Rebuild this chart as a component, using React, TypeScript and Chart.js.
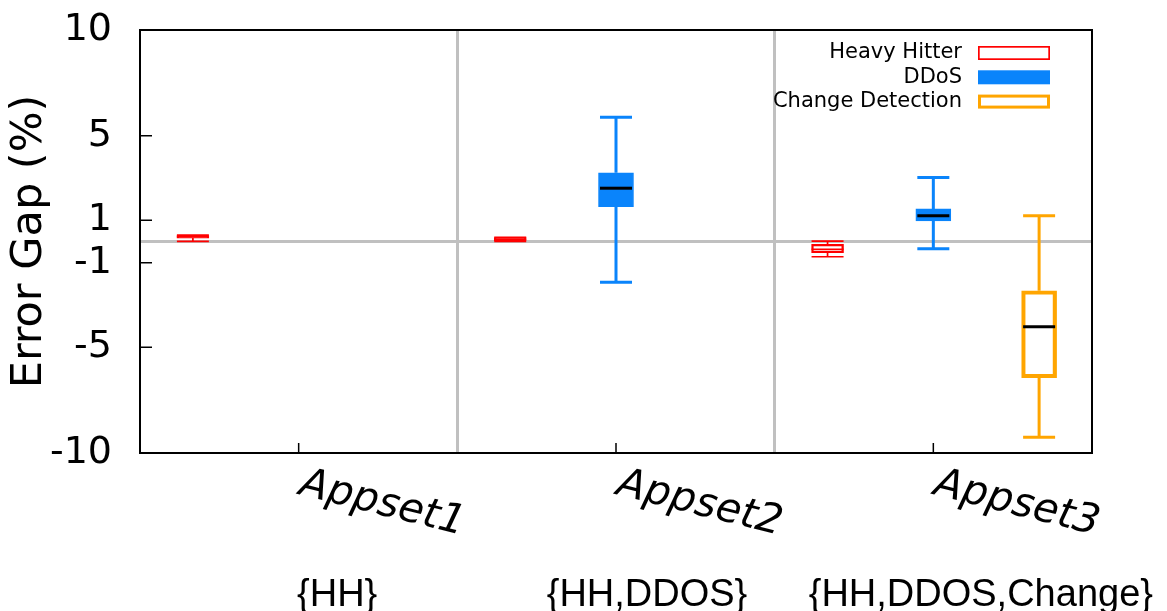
import React, { useEffect, useRef } from 'react';
import { Chart, registerables } from 'chart.js';

Chart.register(...registerables);

// ---- data ----
const categories = ['Appset1', 'Appset2', 'Appset3'];
const appsetMembers = ['{HH}', '{HH,DDOS}', '{HH,DDOS,Change}'];
const yTickValues = [-10, -5, -1, 1, 5, 10];
const seriesNames = ['Heavy Hitter', 'DDoS', 'Change Detection'];

const hhMin = [0.01, 0.0, -0.72];
const hhQ1 = [0.16, 0.04, -0.53];
const hhMedian = [0.22, 0.11, -0.37];
const hhQ3 = [0.28, 0.18, -0.13];
const hhMax = [0.3, 0.2, 0.02];

const ddosMin = [null, -1.93, -0.34];
const ddosQ1 = [null, 1.65, 0.97];
const ddosMedian = [null, 2.52, 1.22];
const ddosQ3 = [null, 3.25, 1.54];
const ddosMax = [null, 5.87, 3.03];

const cdMin = [null, null, -9.26];
const cdQ1 = [null, null, -6.44];
const cdMedian = [null, null, -4.03];
const cdQ3 = [null, null, -2.33];
const cdMax = [null, null, 1.22];

// ---- styling / layout ----
const RED = '#ff0000';
const BLUE = '#0a84fb';
const ORANGE = '#ffa500';
const GRID = '#c0c0c0';

type Series = {
  name: string;
  min: (number | null)[];
  q1: (number | null)[];
  med: (number | null)[];
  q3: (number | null)[];
  max: (number | null)[];
  color: string;
  fill: string;
  border: number;
  whisker: number;
  medColor: string;
  medWidth: number;
  thickness: number;
  offset: number;
};

const series: Series[] = [
  { name: seriesNames[0], min: hhMin, q1: hhQ1, med: hhMedian, q3: hhQ3, max: hhMax, color: RED, fill: 'rgba(0,0,0,0)', border: 1.7, whisker: 1.7, medColor: RED, medWidth: 1.5, thickness: 32, offset: -1 / 3 },
  { name: seriesNames[1], min: ddosMin, q1: ddosQ1, med: ddosMedian, q3: ddosQ3, max: ddosMax, color: BLUE, fill: BLUE, border: 1, whisker: 3, medColor: '#000000', medWidth: 3, thickness: 35, offset: 0 },
  { name: seriesNames[2], min: cdMin, q1: cdQ1, med: cdMedian, q3: cdQ3, max: cdMax, color: ORANGE, fill: 'rgba(0,0,0,0)', border: 3.5, whisker: 3, medColor: '#000000', medWidth: 3, thickness: 35, offset: 1 / 3 },
];

const CAP_HALF = 16;

const boxPlugin = {
  id: 'boxParts',
  beforeDatasetsDraw(chart: any) {
    const { ctx, scales } = chart;
    const x = scales.x, y = scales.y;
    series.forEach((s) => {
      s.min.forEach((mn, gi) => {
        if (mn == null) return;
        const cx = x.getPixelForValue(gi + 0.5 + s.offset);
        const yMin = y.getPixelForValue(mn);
        const yMax = y.getPixelForValue(s.max[gi] as number);
        const yQ1 = y.getPixelForValue(s.q1[gi] as number);
        const yQ3 = y.getPixelForValue(s.q3[gi] as number);
        ctx.save();
        ctx.strokeStyle = s.color;
        ctx.lineWidth = s.whisker;
        ctx.beginPath();
        ctx.moveTo(cx, yQ3); ctx.lineTo(cx, yMax);
        ctx.moveTo(cx, yQ1); ctx.lineTo(cx, yMin);
        ctx.moveTo(cx - CAP_HALF, yMax); ctx.lineTo(cx + CAP_HALF, yMax);
        ctx.moveTo(cx - CAP_HALF, yMin); ctx.lineTo(cx + CAP_HALF, yMin);
        ctx.stroke();
        ctx.restore();
      });
    });
  },
  afterDatasetsDraw(chart: any) {
    const { ctx, scales } = chart;
    const x = scales.x, y = scales.y;
    series.forEach((s) => {
      s.med.forEach((md, gi) => {
        if (md == null) return;
        const cx = x.getPixelForValue(gi + 0.5 + s.offset);
        const ym = y.getPixelForValue(md);
        ctx.save();
        ctx.strokeStyle = s.medColor;
        ctx.lineWidth = s.medWidth;
        ctx.beginPath();
        ctx.moveTo(cx - CAP_HALF, ym); ctx.lineTo(cx + CAP_HALF, ym);
        ctx.stroke();
        ctx.restore();
      });
    });
  },
  afterDraw(chart: any) {
    const { ctx, chartArea, scales } = chart;
    const x = scales.x, y = scales.y;
    const { left, right, top, bottom } = chartArea;
    ctx.save();
    // inward ticks
    ctx.strokeStyle = '#000';
    ctx.lineWidth = 1.5;
    ctx.beginPath();
    yTickValues.forEach((v) => {
      const py = y.getPixelForValue(v);
      ctx.moveTo(left, py); ctx.lineTo(left + 12, py);
    });
    categories.forEach((_, i) => {
      const px = x.getPixelForValue(i + 0.5);
      ctx.moveTo(px, bottom); ctx.lineTo(px, bottom - 10);
    });
    ctx.stroke();
    // frame
    ctx.lineWidth = 2;
    ctx.strokeRect(left, top, right - left, bottom - top);

    // category labels (rotated, italic)
    ctx.fillStyle = '#000';
    ctx.font = 'italic 41px "DejaVu Sans"';
    ctx.textAlign = 'left';
    ctx.textBaseline = 'alphabetic';
    categories.forEach((c, i) => {
      const px = x.getPixelForValue(i + 0.5);
      ctx.save();
      ctx.translate(px - 1, bottom + 41);
      ctx.rotate((14 * Math.PI) / 180);
      ctx.fillText(c, 0, 0);
      ctx.restore();
    });
    // member sets
    const memberShift = [38.5, 31, 47.5];
    ctx.font = '38px "Liberation Sans"';
    ctx.textAlign = 'center';
    appsetMembers.forEach((m, i) => {
      const px = x.getPixelForValue(i + 0.5);
      ctx.fillText(m, px + memberShift[i], 606);
    });

    // legend
    ctx.font = '21px "DejaVu Sans"';
    ctx.textAlign = 'right';
    ctx.textBaseline = 'middle';
    series.forEach((s, i) => {
      const cy = top + 23 + i * 24.3;
      ctx.fillStyle = '#000';
      ctx.fillText(s.name, right - 130, cy);
      const bx = right - 114, bw = 72, bh = 14;
      if (s.fill !== 'rgba(0,0,0,0)') {
        ctx.fillStyle = s.fill;
        ctx.fillRect(bx, cy - bh / 2, bw, bh);
      } else {
        ctx.strokeStyle = s.color;
        ctx.lineWidth = i === 0 ? 1.7 : 3;
        const inset = ctx.lineWidth / 2;
        ctx.strokeRect(bx + inset, cy - bh / 2 + inset, bw - 2 * inset, bh - 2 * inset);
      }
    });
    ctx.restore();
  },
};

export default function App() {
  const ref = useRef<HTMLCanvasElement>(null);

  useEffect(() => {
    if (!ref.current) return;
    const datasets = series.map((s) => ({
      label: s.name,
      data: s.q1
        .map((q, gi) => (q == null ? null : { x: gi + 0.5 + s.offset, y: [q, s.q3[gi] as number] }))
        .filter((d) => d !== null),
      backgroundColor: s.fill,
      borderColor: s.color,
      borderWidth: s.border,
      borderSkipped: false,
      barThickness: s.thickness,
      grouped: false,
    }));

    const chart = new Chart(ref.current, {
      type: 'bar',
      data: { datasets: datasets as any },
      plugins: [boxPlugin],
      options: {
        responsive: false,
        animation: false,
        devicePixelRatio: 1,
        layout: { autoPadding: false, padding: { left: 0, top: 30, right: 75, bottom: 0 } },
        plugins: { legend: { display: false }, tooltip: { enabled: false }, title: { display: false } },
        scales: {
          x: {
            type: 'linear',
            min: 0,
            max: 3,
            offset: false,
            afterBuildTicks: (scale: any) => {
              scale.ticks = [0, 1, 2, 3].map((v) => ({ value: v }));
            },
            afterFit: (scale: any) => {
              scale.height = 158;
              scale.paddingLeft = 0;
              scale.paddingRight = 0;
            },
            grid: {
              offset: false,
              drawTicks: false,
              lineWidth: 3,
              color: (c: any) => (c.tick && (c.tick.value === 1 || c.tick.value === 2) ? GRID : 'rgba(0,0,0,0)'),
            },
            border: { display: false },
            ticks: { display: false },
          },
          y: {
            type: 'linear',
            min: -10,
            max: 10,
            afterBuildTicks: (scale: any) => {
              scale.ticks = [...yTickValues, 0].sort((a, b) => a - b).map((v) => ({ value: v }));
            },
            afterFit: (scale: any) => {
              scale.width = 140;
              scale.paddingTop = 0;
              scale.paddingBottom = 0;
            },
            grid: {
              drawTicks: false,
              lineWidth: 3,
              color: (c: any) => (c.tick && c.tick.value === 0 ? GRID : 'rgba(0,0,0,0)'),
            },
            border: { display: false },
            ticks: {
              autoSkip: false,
              padding: 28,
              color: '#000',
              font: { family: 'DejaVu Sans', size: 38 },
              callback: (v: any) => (v === 0 ? '' : String(v)),
            },
            title: {
              display: true,
              text: 'Error Gap (%)',
              color: '#000',
              font: { family: 'DejaVu Sans', size: 43 },
              padding: { top: 4, bottom: 0 },
            },
          },
        },
      },
    });
    return () => chart.destroy();
  }, []);

  return (
    <div style={{ position: 'absolute', left: 0, top: 0, width: 1167, height: 611 }}>
      <canvas ref={ref} width={1167} height={611} style={{ display: 'block' }} />
    </div>
  );
}
